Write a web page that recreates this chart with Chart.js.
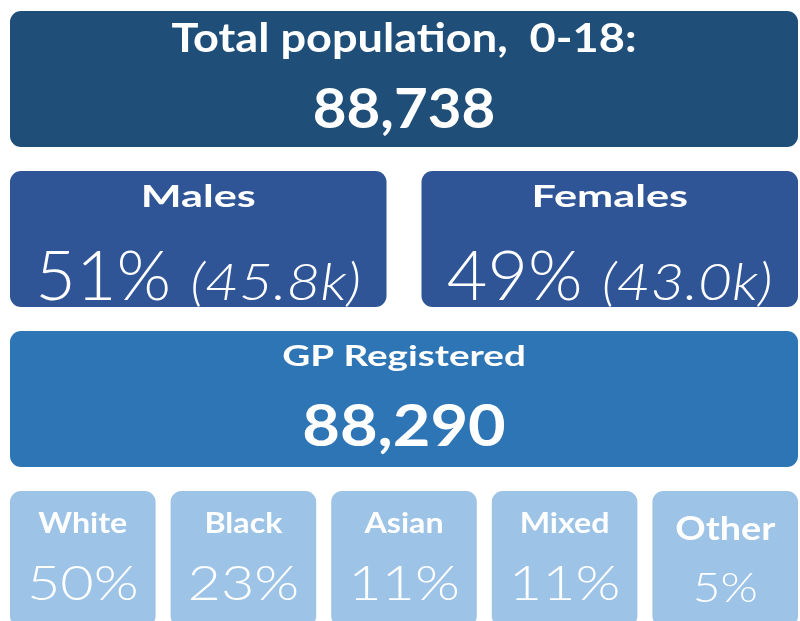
<!DOCTYPE html>
<html>
<head>
<meta charset="utf-8">
<script src="https://cdn.jsdelivr.net/npm/chart.js@4"></script>
<style>
  html, body { margin: 0; padding: 0; background: #fff; overflow: hidden; }
  #wrap { position: relative; width: 800px; height: 621px; overflow: hidden; }
  #chart { position: absolute; left: 0; top: -1px; }
</style>
</head>
<body>
<div id="wrap"><canvas id="chart" width="800" height="640"></canvas></div>
<script>
// values
const totalTitle = "Total population,  0-18:";
const totalPopulation = 88738;
const genderLabels = ["Males", "Females"];
const genderPercent = [51, 49];
const genderCountK = [45.8, 43.0];
const gpTitle = "GP Registered";
const gpRegistered = 88290;
const ethnicLabels = ["White", "Black", "Asian", "Mixed", "Other"];
const ethnicPercent = [50, 23, 11, 11, 5];

const FONT = "Lato, 'Open Sans', sans-serif";
const fmt = (n) => n.toLocaleString("en-GB");

// one row per band of boxes
const rows = [
  { labels: [totalTitle], values: [fmt(totalPopulation)], gap: 0, color: "#1F4E79" },
  { labels: genderLabels, values: genderPercent.map((p) => p + "%"),
    extra: genderCountK.map((k) => "(" + k.toFixed(1) + "k)"), gap: 35, color: "#2F5597" },
  { labels: [gpTitle], values: [fmt(gpRegistered)], gap: 0, color: "#2E75B6" },
  { labels: ethnicLabels, values: ethnicPercent.map((p) => p + "%"), gap: 15, color: "#9DC3E6" },
];

// text styles per row: font, horizontal stretch, baseline from box top
// (stretch stands in for the wide geometric face of the original)
const styles = [
  { label: "bold 41px", labelSx: 1.1, labelY: 41, value: "bold 55px", valueSx: 1.06, valueY: 117 },
  { label: "bold 30px", labelSx: 1.44, labelY: 36, value: "300 68px", valueSx: 1.03, valueY: 129,
    extra: "italic 300 52px", extraSx: 1.13 },
  { label: "bold 29px", labelSx: 1.33, labelY: 35, value: "bold 58px", valueSx: 1.12, valueY: 115 },
  { label: "bold 29px", labelSx: 1.11, labelY: 42, value: "300 48px", valueSx: 1.2, valueY: 109 },
];
const otherStyle = { label: "bold 32px", labelSx: 1.18, labelY: 49, value: "300 42px", valueSx: 1.14, valueY: 111 };

const LEFT = 10, RIGHT = 798;
const maxCols = Math.max(...rows.map((r) => r.labels.length));

const datasets = [];
for (let j = 0; j < maxCols; j++) {
  datasets.push({
    data: rows.map((r) => {
      const n = r.labels.length;
      if (j >= n) return null;
      const w = (RIGHT - LEFT - r.gap * (n - 1)) / n;
      const x0 = LEFT + j * (w + r.gap);
      return [x0, x0 + w];
    }),
    backgroundColor: rows.map((r) => r.color),
    borderWidth: 0,
    borderRadius: 11,
    borderSkipped: false,
    grouped: false,
    categoryPercentage: 1,
    barPercentage: 0.85,
  });
}

function textWidth(ctx, text, font, sx) {
  ctx.font = font + " " + FONT;
  return ctx.measureText(text).width * sx;
}

// draw left-aligned text stretched horizontally by sx
function drawText(ctx, text, x, y, font, sx) {
  ctx.save();
  ctx.font = font + " " + FONT;
  ctx.textAlign = "left";
  ctx.translate(x, y);
  ctx.scale(sx, 1);
  ctx.fillText(text, 0, 0);
  ctx.restore();
}

const boxText = {
  id: "boxText",
  afterDatasetsDraw(chart) {
    const ctx = chart.ctx;
    ctx.save();
    ctx.fillStyle = "#ffffff";
    ctx.textBaseline = "alphabetic";
    rows.forEach((r, i) => {
      r.labels.forEach((label, j) => {
        const el = chart.getDatasetMeta(j).data[i];
        if (!el) return;
        const p = el.getProps(["x", "y", "base", "height"], true);
        const cx = (p.x + p.base) / 2;
        const top = p.y - p.height / 2;
        const st = i === 3 && label === "Other" ? otherStyle : styles[i];

        const lw = textWidth(ctx, label, st.label, st.labelSx);
        drawText(ctx, label, cx - lw / 2, top + st.labelY, st.label, st.labelSx);

        const val = r.values[j];
        if (r.extra) {
          const w1 = textWidth(ctx, val + " ", st.value, st.valueSx);
          const w2 = textWidth(ctx, r.extra[j], st.extra, st.extraSx);
          const x0 = cx - (w1 + w2) / 2;
          drawText(ctx, val, x0, top + st.valueY, st.value, st.valueSx);
          drawText(ctx, r.extra[j], x0 + w1, top + st.valueY, st.extra, st.extraSx);
        } else {
          const vw = textWidth(ctx, val, st.value, st.valueSx);
          drawText(ctx, val, cx - vw / 2, top + st.valueY, st.value, st.valueSx);
        }
      });
    });
    ctx.restore();
  },
};

new Chart(document.getElementById("chart"), {
  type: "bar",
  data: { labels: rows.map((r, i) => "row" + i), datasets },
  options: {
    indexAxis: "y",
    responsive: false,
    animation: false,
    devicePixelRatio: 1,
    layout: { padding: 0 },
    scales: {
      x: { type: "linear", min: 0, max: 800, display: false },
      y: { type: "category", display: false, offset: true },
    },
    plugins: {
      legend: { display: false },
      tooltip: { enabled: false },
    },
    events: [],
  },
  plugins: [boxText],
});
</script>
</body>
</html>
